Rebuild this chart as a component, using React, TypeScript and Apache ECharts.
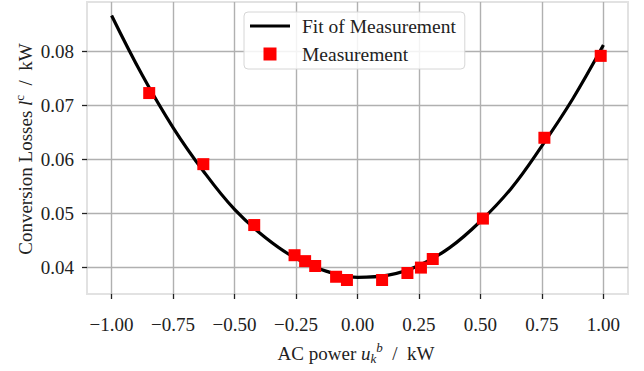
import React, { useEffect, useRef } from "react";
import * as echarts from "echarts";

const fitX = [-1, -0.875, -0.75, -0.625, -0.5, -0.375, -0.25, -0.125, 0, 0.125, 0.25, 0.375, 0.5, 0.625, 0.75, 0.875, 1];
const fitY = [0.0867, 0.0756, 0.0659, 0.0577, 0.0507, 0.0455, 0.0416, 0.0392, 0.0381, 0.0385, 0.0403, 0.0436, 0.0485, 0.0546, 0.0625, 0.0712, 0.0812];

const measX = [-0.847, -0.627, -0.42, -0.256, -0.213, -0.172, -0.087, -0.043, 0.1, 0.203, 0.258, 0.306, 0.51, 0.76, 0.989];
const measY = [0.0723, 0.0591, 0.0478, 0.0422, 0.0411, 0.0402, 0.0382, 0.0376, 0.0376, 0.0389, 0.0399, 0.0415, 0.049, 0.064, 0.0792];

const xTicks = [-1, -0.75, -0.5, -0.25, 0, 0.25, 0.5, 0.75, 1];
const yTicks = [0.04, 0.05, 0.06, 0.07, 0.08];

const FONT = "'Liberation Serif', 'Times New Roman', serif";

export default function App() {
  const ref = useRef<HTMLDivElement>(null);
  useEffect(() => {
    document.body.style.margin = "0";
    if (!ref.current) return;
    const chart = echarts.init(ref.current, undefined, { renderer: "svg" });
    const fitData = fitX.map((x, i) => [x, fitY[i]]);
    const measData = measX.map((x, i) => [x, measY[i]]);
    chart.setOption({
      animation: false,
      grid: { left: 87, right: 16, top: 2, bottom: 77, show: true, borderColor: "#e2e2e2", borderWidth: 2, backgroundColor: "transparent" },
      xAxis: {
        type: "value",
        min: -1.1,
        max: 1.1,
        axisLine: { show: false, onZero: false },
        axisTick: { show: true, length: 5, lineStyle: { color: "#222", width: 1.3 }, customValues: xTicks },
        axisLabel: {
          customValues: xTicks,
          margin: 21,
          fontSize: 19,
          fontFamily: FONT,
          color: "#222",
          formatter: (v: number) => v.toFixed(2).replace("-", "\u2212"),
        },
        splitLine: { show: true, lineStyle: { color: "#b0b0b0", width: 1.4 } },
      },
      yAxis: {
        type: "value",
        min: 0.035,
        max: 0.0892,
        axisLine: { show: false, onZero: false },
        axisTick: { show: true, length: 5, lineStyle: { color: "#222", width: 1.3 }, customValues: yTicks },
        axisLabel: {
          customValues: yTicks,
          margin: 13,
          fontSize: 19,
          fontFamily: FONT,
          color: "#222",
          formatter: (v: number) => v.toFixed(2),
        },
        splitLine: { show: true, lineStyle: { color: "#b0b0b0", width: 1.4 } },
      },
      legend: {
        left: 244,
        top: 12,
        orient: "vertical",
        itemWidth: 40,
        itemHeight: 13,
        itemGap: 8,
        padding: [4, 9, 5, 6],
        backgroundColor: "rgba(255,255,255,0.85)",
        borderColor: "#d6d6d6",
        borderWidth: 1,
        borderRadius: 4,
        textStyle: { fontSize: 19.5, fontFamily: FONT, color: "#222", padding: [0, 0, 0, 7] },
        data: [
          { name: "Fit of Measurement", icon: "path://M0,0H40V3.2H0Z", itemStyle: { color: "#000" } },
          { name: "Measurement", icon: "path://M0,0H13V13H0Z", itemStyle: { color: "#ff0000" } },
        ],
      },
      series: [
        {
          name: "Fit of Measurement",
          type: "line",
          data: fitData,
          smooth: 0.4,
          symbol: "none",
          showSymbol: false,
          lineStyle: { color: "#000", width: 3.2 },
          itemStyle: { color: "#000" },
          z: 2,
        },
        {
          name: "Measurement",
          type: "scatter",
          data: measData,
          symbol: "rect",
          symbolSize: 12,
          itemStyle: { color: "#ff0000", opacity: 1 },
          z: 3,
        },
      ],
      graphic: [
        {
          type: "text",
          x: 356,
          y: 353,
          style: {
            text: "AC power {i|u}{sub|k}{sup|b}  /  kW",
            fontSize: 19,
            fontFamily: FONT,
            fill: "#222",
            align: "center",
            verticalAlign: "middle",
            rich: {
              i: { fontSize: 19, fontFamily: FONT, fontStyle: "italic", lineHeight: 24, fill: "#222" },
              sub: { fontSize: 13, fontFamily: FONT, fontStyle: "italic", verticalAlign: "bottom", lineHeight: 12, fill: "#222" },
              sup: { fontSize: 13, fontFamily: FONT, fontStyle: "italic", verticalAlign: "top", lineHeight: 12, fill: "#222" },
            },
          },
        },
        {
          type: "text",
          x: 25,
          y: 149,
          rotation: Math.PI / 2,
          style: {
            text: "Conversion Losses {i|l}{sup|c}  /  kW",
            fontSize: 19,
            fontFamily: FONT,
            fill: "#222",
            align: "center",
            verticalAlign: "middle",
            rich: {
              i: { fontSize: 19, fontFamily: FONT, fontStyle: "italic", lineHeight: 24, fill: "#222" },
              sup: { fontSize: 13, fontFamily: FONT, verticalAlign: "top", lineHeight: 12, fill: "#222" },
            },
          },
        },
      ],
    });
    return () => chart.dispose();
  }, []);
  return <div ref={ref} style={{ width: 644, height: 371, position: "absolute", left: 0, top: 0 }} />;
}
